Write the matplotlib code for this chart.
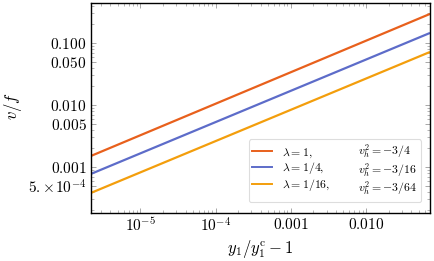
import matplotlib.pyplot as plt
from matplotlib.lines import Line2D
from matplotlib.ticker import FixedLocator, LogLocator, NullFormatter

plt.rcParams['mathtext.fontset'] = 'cm'
plt.rcParams['font.family'] = 'serif'
plt.rcParams['font.serif'] = ['cmr10']
plt.rcParams['axes.formatter.use_mathtext'] = True

# data (straight lines on log-log axes)
x_pts = [2.2e-6, 0.0705]
v_lam1 = [1.50e-3, 0.294]
v_lam4 = [7.7e-4, 0.145]
v_lam16 = [3.8e-4, 0.0716]

lam_labels = [r'$\lambda = 1,$', r'$\lambda = 1/4,$', r'$\lambda = 1/16,$']
vh_labels = [r'$v_h^2 = -3/4$', r'$v_h^2 = -3/16$', r'$v_h^2 = -3/64$']
colors = ['#E8601C', '#5D6CC9', '#F39E0C']

xticks = [1e-5, 1e-4, 1e-3, 1e-2]
xticklabels = [r'$10^{-5}$', r'$10^{-4}$', r'$0.001$', r'$0.010$']
yticks = [5e-4, 1e-3, 5e-3, 1e-2, 5e-2, 1e-1]
yticklabels = [r'$5.\!\times\!10^{-4}$', r'$0.001$', r'$0.005$', r'$0.010$', r'$0.050$', r'$0.100$']

fig = plt.figure(figsize=(4.34, 2.61), dpi=100)
ax = fig.add_axes([90.7 / 434, 1 - 212.7 / 261, (430 - 90.7) / 434, (212.7 - 3) / 261])

for ys, c in zip([v_lam1, v_lam4, v_lam16], colors):
    ax.plot(x_pts, ys, color=c, lw=1.6, solid_capstyle='butt')

ax.set_xscale('log')
ax.set_yscale('log')
ax.set_xlim(2.2e-6, 0.0705)
ax.set_ylim(1.83e-4, 0.441)

ax.xaxis.set_major_locator(FixedLocator(xticks))
ax.set_xticklabels(xticklabels)
ax.yaxis.set_major_locator(FixedLocator(yticks))
ax.set_yticklabels(yticklabels)
ax.xaxis.set_minor_locator(LogLocator(base=10, subs=range(2, 10)))
ax.yaxis.set_minor_locator(LogLocator(base=10, subs=range(2, 10)))
ax.xaxis.set_minor_formatter(NullFormatter())
ax.yaxis.set_minor_formatter(NullFormatter())

ax.tick_params(which='both', direction='in', top=True, right=True,
               color='#999999', labelsize=11, pad=3)
ax.tick_params(which='major', length=3.5, width=0.6)
ax.tick_params(which='minor', length=2, width=0.5)
for s in ax.spines.values():
    s.set_linewidth(1.0)

ax.set_xlabel(r'$y_1/y_1^{\rm c} - 1$', fontsize=12, labelpad=2)
ax.set_ylabel(r'$v/f$', fontsize=12)
ax.yaxis.set_label_coords(-0.196, 0.51)

# two-column legend: lines + lambda, then blank handles + v_h^2
handles = [Line2D([], [], color=c, lw=1.4) for c in colors]
blanks = [Line2D([], [], alpha=0) for _ in colors]
leg = ax.legend(handles + blanks, lam_labels + vh_labels, ncol=2,
                loc='lower right', bbox_to_anchor=(0.9735, 0.051),
                borderaxespad=0,
                fontsize=8.5, handlelength=1.7, handletextpad=0.8,
                columnspacing=-0.1, labelspacing=0.05,
                frameon=True, fancybox=True, edgecolor='#dddddd',
                framealpha=1, borderpad=0.3)
leg.get_frame().set_linewidth(0.8)

fig.savefig('out.png', dpi=100)
